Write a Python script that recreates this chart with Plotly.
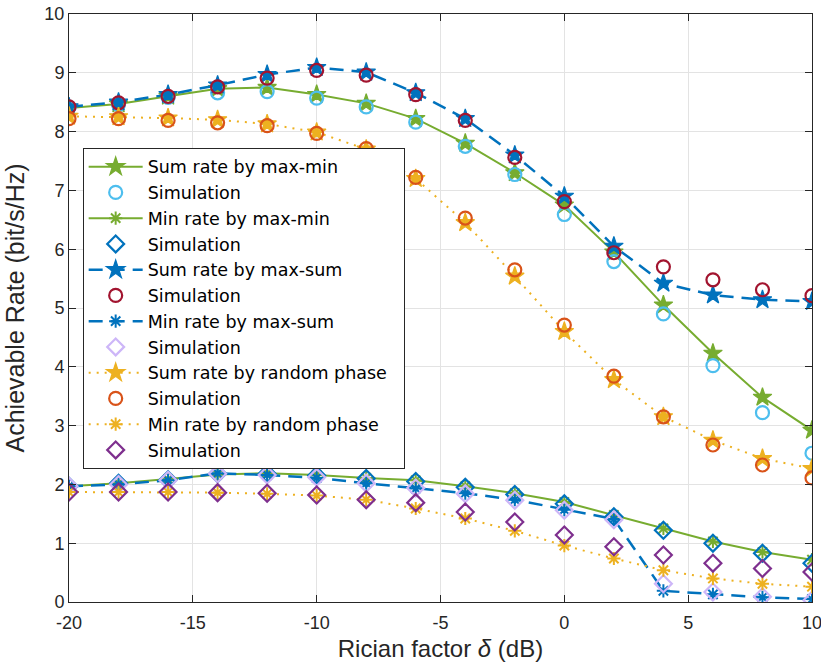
import plotly.graph_objects as go

delta_db = [-20, -18, -16, -14, -12, -10, -8, -6, -4, -2, 0, 2, 4, 6, 8, 10]
x_tick_vals = [-20, -15, -10, -5, 0, 5, 10]
x_tick_text = ["-20", "-15", "-10", "-5", "0", "5", "10"]
y_tick_vals = [0, 1, 2, 3, 4, 5, 6, 7, 8, 9, 10]

sum_maxmin = [8.40, 8.47, 8.60, 8.73, 8.75, 8.63, 8.48, 8.22, 7.80, 7.30, 6.75, 5.95, 5.05, 4.23, 3.48, 2.92]
sum_maxmin_sim = [8.41, 8.46, 8.58, 8.66, 8.68, 8.57, 8.42, 8.16, 7.75, 7.27, 6.59, 5.79, 4.90, 4.02, 3.22, 2.53]
min_maxmin = [1.97, 2.02, 2.09, 2.17, 2.19, 2.16, 2.11, 2.07, 1.97, 1.85, 1.70, 1.48, 1.25, 1.03, 0.85, 0.72]
min_maxmin_sim = [1.97, 2.02, 2.08, 2.18, 2.18, 2.15, 2.10, 2.05, 1.95, 1.83, 1.67, 1.45, 1.22, 1.00, 0.83, 0.66]

sum_maxsum = [8.42, 8.50, 8.63, 8.79, 8.97, 9.09, 9.01, 8.66, 8.22, 7.60, 6.90, 6.05, 5.42, 5.22, 5.14, 5.11]
sum_maxsum_sim = [8.42, 8.49, 8.60, 8.76, 8.91, 9.04, 8.96, 8.63, 8.19, 7.56, 6.81, 5.94, 5.70, 5.48, 5.31, 5.21]
min_maxsum = [1.97, 2.00, 2.07, 2.19, 2.16, 2.11, 2.02, 1.93, 1.85, 1.74, 1.57, 1.41, 0.19, 0.13, 0.08, 0.05]
min_maxsum_sim = [1.97, 2.00, 2.07, 2.18, 2.16, 2.12, 2.02, 1.94, 1.84, 1.73, 1.56, 1.40, 0.31, 0.17, 0.09, 0.03]

sum_rand = [8.26, 8.25, 8.23, 8.20, 8.13, 7.99, 7.70, 7.20, 6.45, 5.54, 4.60, 3.78, 3.15, 2.75, 2.44, 2.27]
sum_rand_sim = [8.22, 8.22, 8.19, 8.15, 8.10, 7.97, 7.71, 7.22, 6.53, 5.65, 4.71, 3.84, 3.15, 2.67, 2.33, 2.11]
min_rand = [1.87, 1.87, 1.87, 1.86, 1.84, 1.81, 1.74, 1.59, 1.42, 1.21, 0.96, 0.74, 0.54, 0.40, 0.31, 0.26]
min_rand_sim = [1.87, 1.87, 1.87, 1.86, 1.85, 1.82, 1.74, 1.69, 1.53, 1.36, 1.14, 0.94, 0.80, 0.66, 0.57, 0.51]

names = ["Sum rate by max-min", "Simulation", "Min rate by max-min", "Simulation",
         "Sum rate by max-sum", "Simulation", "Min rate by max-sum", "Simulation",
         "Sum rate by random phase\u00a0\u00a0", "Simulation", "Min rate by random phase", "Simulation"]

GREEN = "#77AC30"
LBLUE = "#4DBEEE"
BLUE = "#0072BD"
DRED = "#A2142F"
LAV = "#CDB6F8"
YEL = "#EDB120"
ORG = "#D95319"
PUR = "#7E2F8E"

fig = go.Figure()

def line_trace(y, name, color, dash, symbol, msize, filled, lw=2):
    mk = dict(symbol=symbol, size=msize, color=color,
              line=dict(color=color, width=1.2 if filled else 2))
    fig.add_trace(go.Scatter(x=delta_db, y=y, name=name, mode="lines+markers",
                             line=dict(color=color, width=lw, dash=dash), marker=mk))

def sim_trace(y, name, color, symbol, msize):
    fig.add_trace(go.Scatter(x=delta_db, y=y, name=name, mode="markers",
                             marker=dict(symbol=symbol, size=msize, color=color,
                                         line=dict(color=color, width=2.2))))

DASH = "14px,8px"
DOT = "2px,6px"

line_trace(sum_maxmin, names[0], GREEN, "solid", "star", 14, True)
sim_trace(sum_maxmin_sim, names[1], LBLUE, "circle-open", 13)
line_trace(min_maxmin, names[2], GREEN, "solid", "asterisk-open", 11, False)
sim_trace(min_maxmin_sim, names[3], BLUE, "diamond-open", 13)
line_trace(sum_maxsum, names[4], BLUE, DASH, "star", 14, True, lw=2.5)
sim_trace(sum_maxsum_sim, names[5], DRED, "circle-open", 13)
line_trace(min_maxsum, names[6], BLUE, DASH, "asterisk-open", 11, False, lw=2.5)
sim_trace(min_maxsum_sim, names[7], LAV, "diamond-open", 13)
line_trace(sum_rand, names[8], YEL, DOT, "star", 14, True)
sim_trace(sum_rand_sim, names[9], ORG, "circle-open", 13)
line_trace(min_rand, names[10], YEL, DOT, "asterisk-open", 11, False)
sim_trace(min_rand_sim, names[11], PUR, "diamond-open", 13)

axis_common = dict(showgrid=True, gridcolor="#e3e3e3", gridwidth=1,
                   showline=True, linecolor="#262626", linewidth=1, mirror="allticks",
                   ticks="inside", ticklen=7, tickcolor="#262626", tickwidth=1,
                   zeroline=False, automargin=False, ticklabeloverflow="allow",
                   tickfont=dict(family="Liberation Sans, Arial", size=18, color="#262626"))

fig.update_xaxes(range=[-20, 10], tickvals=x_tick_vals, ticktext=x_tick_text,
                 ticklabelstandoff=4,
                 title=dict(text="Rician factor <i>δ</i> (dB)", standoff=8,
                            font=dict(family="Liberation Sans, Arial", size=24, color="#262626")),
                 **axis_common)
fig.update_yaxes(range=[0, 10], tickvals=y_tick_vals,
                 title=dict(text="Achievable Rate (bit/s/Hz)", standoff=12,
                            font=dict(family="Liberation Sans, Arial", size=25, color="#262626")),
                 **axis_common)

fig.update_layout(
    width=821, height=664,
    margin=dict(l=69, r=9, t=14, b=62),
    paper_bgcolor="white", plot_bgcolor="white",
    showlegend=True,
    legend=dict(x=0.0184, y=0.7725, xanchor="left", yanchor="top",
                bgcolor="white", bordercolor="#262626", borderwidth=1,
                font=dict(family="DejaVu Sans", size=17.5, color="#000000"),
                itemwidth=54, tracegroupgap=0),
)

fig.write_html("out.html")
